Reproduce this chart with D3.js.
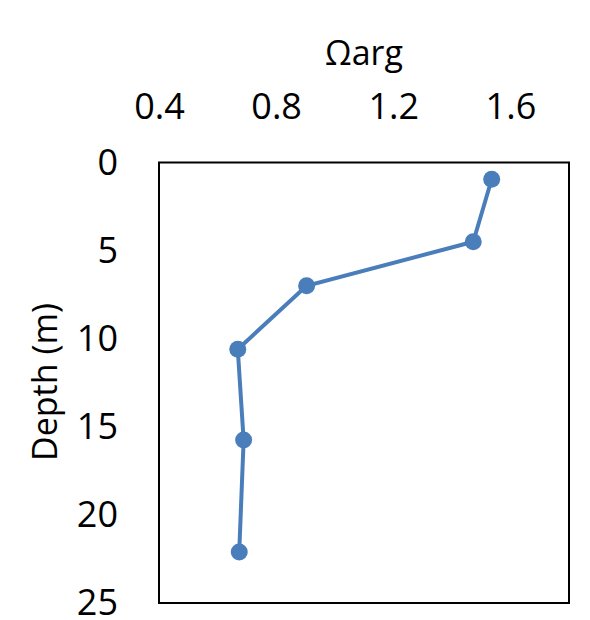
<!DOCTYPE html>
<html><head><meta charset="utf-8">
<script src="https://cdn.jsdelivr.net/npm/d3@7"></script>
<style>body{margin:0;background:#fff}svg text{font-family:"Open Sans",sans-serif;fill:#000}</style>
</head><body>
<svg id="c" width="590" height="620"></svg>
<script>
const omega = [1.536, 1.473, 0.904, 0.669, 0.689, 0.674];
const depth = [0.95, 4.5, 7.0, 10.6, 15.75, 22.1];
const xTicks = [0.4, 0.8, 1.2, 1.6];
const yTicks = [0, 5, 10, 15, 20, 25];
const xTitle = "Ωarg";
const yTitle = "Depth (m)";

const svg = d3.select("#c");
const L = 159, R = 569, T = 162.5, B = 603;
const x = d3.scaleLinear().domain([0.4, 1.8]).range([L, R]);
const y = d3.scaleLinear().domain([0, 25]).range([T, B]);

const xa = svg.append("g").attr("transform", `translate(0,${T})`)
  .call(d3.axisTop(x).tickValues(xTicks).tickSize(0).tickPadding(44).tickFormat(d3.format(".1f")));
xa.select(".domain").remove();
xa.selectAll("text").style("font-size", "36px");

const ya = svg.append("g").attr("transform", `translate(${L},0)`)
  .call(d3.axisLeft(y).tickValues(yTicks).tickSize(0).tickPadding(41));
ya.select(".domain").remove();
ya.selectAll("text").style("font-size", "36px");

svg.append("rect").attr("x", L).attr("y", T).attr("width", R - L).attr("height", B - T)
  .attr("fill", "none").attr("stroke", "#000").attr("stroke-width", 2);

const pts = omega.map((v, i) => [v, depth[i]]);
svg.append("path").datum(pts)
  .attr("d", d3.line().x(d => x(d[0])).y(d => y(d[1])))
  .attr("fill", "none").attr("stroke", "#4a7ebb").attr("stroke-width", 4);
svg.selectAll("circle.pt").data(pts).join("circle").attr("class", "pt")
  .attr("cx", d => x(d[0])).attr("cy", d => y(d[1])).attr("r", 8.5).attr("fill", "#4a7ebb");

svg.append("text").attr("x", 364).attr("y", 65).attr("text-anchor", "middle")
  .style("font-size", "34px").text(xTitle);
svg.append("text").attr("transform", "translate(57,382) rotate(-90)").attr("text-anchor", "middle")
  .style("font-size", "34px").text(yTitle);
</script>
</body></html>
